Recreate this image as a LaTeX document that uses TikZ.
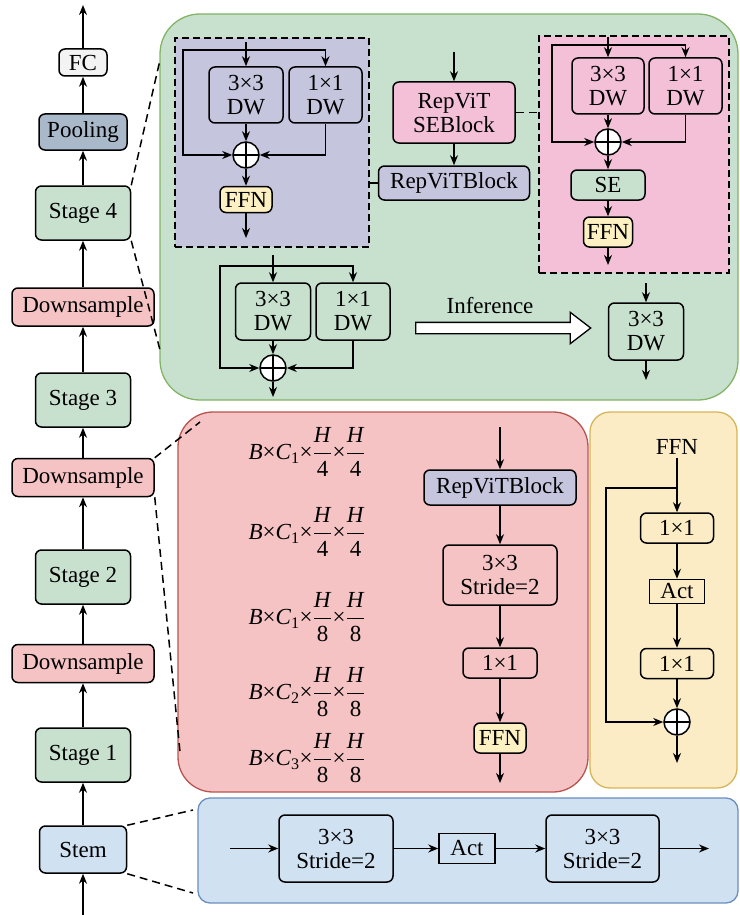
\documentclass[tikz,border=0pt]{standalone}
\usepackage{amsmath}
\usepackage{fontspec}
\setmainfont{Liberation Serif}
\usetikzlibrary{arrows.meta,shapes.arrows}

\definecolor{grn}{HTML}{C8E1CF}
\definecolor{gbrd}{HTML}{82B366}
\definecolor{rfill}{HTML}{F5C3C4}
\definecolor{rbrd}{HTML}{B85450}
\definecolor{lav}{HTML}{C6C5DE}
\definecolor{mag}{HTML}{F3C0D8}
\definecolor{ffnc}{HTML}{FDF0C3}
\definecolor{yfill}{HTML}{FBECC6}
\definecolor{ybrd}{HTML}{D6B656}
\definecolor{bfill}{HTML}{D0E1F1}
\definecolor{bbrd}{HTML}{6C8EBF}
\definecolor{poolc}{HTML}{A9B9CA}
\definecolor{fcgray}{HTML}{F3F3F3}

\newcommand{\dimlbl}[3]{\textit{B}×\textit{C}\textsubscript{#1}×$\dfrac{\mbox{\textit{H}}}{\mbox{#2}}$×$\dfrac{\mbox{\textit{H}}}{\mbox{#3}}$}

\begin{document}
\begin{tikzpicture}[x=1pt, y=-1pt,
    every node/.style={font=\fontsize{23}{24}\selectfont},
    box/.style={draw, line width=1.5pt, rounded corners=6pt, fill=#1, inner sep=0pt, align=center},
    sqbox/.style={draw, line width=1.5pt, fill=#1, inner sep=0pt},
    arr/.style={line width=1.5pt, -{Stealth[length=10pt,width=8pt]}},
    line/.style={line width=1.5pt},
    zoomln/.style={line width=1.5pt, dash pattern=on 8pt off 5pt},
    dbox/.style={draw, line width=1.5pt, dash pattern=on 7pt off 4pt, fill=#1, inner sep=0pt},
    panel/.style 2 args={draw=#1, fill=#2, line width=1.3pt},
    sum/.style={draw, circle, line width=1.5pt, fill=white, minimum size=26pt, inner sep=0pt,
        path picture={\draw[line width=1.5pt] (path picture bounding box.north) -- (path picture bounding box.south)
            (path picture bounding box.west) -- (path picture bounding box.east);}},
    ]
    \useasboundingbox (0,0) rectangle (739,915);

    % panels
    \draw[panel={gbrd}{grn}, rounded corners=40pt] (160,14) rectangle (738,400);
    \draw[panel={rbrd}{rfill}, rounded corners=35pt] (178,412) rectangle (588,792);
    \draw[panel={ybrd}{yfill}, rounded corners=20pt] (590,412) rectangle (737,788);
    \draw[panel={bbrd}{bfill}, rounded corners=12pt] (198,798) rectangle (738,903);

    % backbone
    \node[box=fcgray, minimum width=48pt, minimum height=27pt] (fc) at (83,62.5) {FC};
    \node[box=poolc, minimum width=88pt, minimum height=36pt] (pool) at (83,132) {Pooling};
    \node[box=grn, minimum width=95pt, minimum height=54pt] (st4) at (83,213) {Stage 4};
    \node[box=rfill, minimum width=142pt, minimum height=38pt] (ds3) at (83,307) {Downsample};
    \node[box=grn, minimum width=95pt, minimum height=54pt] (st3) at (83,400) {Stage 3};
    \node[box=rfill, minimum width=142pt, minimum height=38pt] (ds2) at (83,477.5) {Downsample};
    \node[box=grn, minimum width=95pt, minimum height=54pt] (st2) at (83,577) {Stage 2};
    \node[box=rfill, minimum width=142pt, minimum height=38pt] (ds1) at (83,663.5) {Downsample};
    \node[box=grn, minimum width=95pt, minimum height=54pt] (st1) at (83,755) {Stage 1};
    \node[box=bfill, minimum width=87pt, minimum height=47pt] (stem) at (83,849.5) {Stem};
    \coordinate (top) at (83,5);
    \coordinate (bot) at (83,915);
    \draw[arr] (bot) -- (stem);
    \draw[arr] (stem) -- (st1);
    \draw[arr] (st1) -- (ds1);
    \draw[arr] (ds1) -- (st2);
    \draw[arr] (st2) -- (ds2);
    \draw[arr] (ds2) -- (st3);
    \draw[arr] (st3) -- (ds3);
    \draw[arr] (ds3) -- (st4);
    \draw[arr] (st4) -- (pool);
    \draw[arr] (pool) -- (fc);
    \draw[arr] (fc) -- (top);

    % zoom lines
    \coordinate (g1) at (160,60);
    \coordinate (g2) at (160,350);
    \coordinate (r1) at (200,422);
    \coordinate (r2) at (180,752);
    \coordinate (b1) at (193,810);
    \coordinate (b2) at (193,893);
    \draw[zoomln] (st4.north east) -- (g1);
    \draw[zoomln] (st4.south east) -- (g2);
    \draw[zoomln] (ds2.north east) -- (r1);
    \draw[zoomln] (ds2.south east) -- (r2);
    \draw[zoomln] (stem.north east) -- (b1);
    \draw[zoomln] (stem.south east) -- (b2);

    % RepViTBlock
    \node[dbox=lav, minimum width=194pt, minimum height=209pt] (pbox) at (272,142.5) {};
    \node[box=lav, minimum width=74pt, minimum height=56pt] (dwa) at (246,95) {3×3\\DW};
    \node[box=lav, minimum width=73pt, minimum height=56pt] (dwb) at (325.5,95) {1×1\\DW};
    \node[sum] (sumA) at (246,155) {};
    \node[box=ffnc, minimum width=52pt, minimum height=26pt] (ffnA) at (246,199.5) {FFN};
    \coordinate (inA) at (246,42);
    \coordinate (brA) at (246,50);
    \coordinate (skA) at (183,50);
    \coordinate (outA) at (246,238);
    \draw[arr] (inA) -- (dwa);
    \draw[arr] (brA) -| (dwb);
    \draw[arr] (brA) -- (skA) |- (sumA);
    \draw[arr] (dwa) -- (sumA);
    \draw[arr] (dwb) |- (sumA);
    \draw[arr] (sumA) -- (ffnA);
    \draw[arr] (ffnA) -- (outA);

    % RepViT SEBlock
    \node[dbox=mag, minimum width=190pt, minimum height=237pt] (sbox) at (634,154.5) {};
    \node[box=mag, minimum width=72pt, minimum height=56pt] (dwc) at (608,86) {3×3\\DW};
    \node[box=mag, minimum width=73pt, minimum height=56pt] (dwd) at (685.5,86) {1×1\\DW};
    \node[sum] (sumB) at (608,142) {};
    \node[box=grn, minimum width=74pt, minimum height=30pt] (se) at (608,185) {SE};
    \node[box=ffnc, minimum width=49pt, minimum height=30pt] (ffnB) at (608,232) {FFN};
    \coordinate (inB) at (608,37);
    \coordinate (brB) at (608,45);
    \coordinate (skB) at (552,45);
    \coordinate (outB) at (608,265);
    \draw[arr] (inB) -- (dwc);
    \draw[arr] (brB) -| (dwd);
    \draw[arr] (brB) -- (skB) |- (sumB);
    \draw[arr] (dwc) -- (sumB);
    \draw[arr] (dwd) |- (sumB);
    \draw[arr] (sumB) -- (se);
    \draw[arr] (se) -- (ffnB);
    \draw[arr] (ffnB) -- (outB);

    % middle
    \node[box=mag, minimum width=122pt, minimum height=61pt] (seb) at (454,112.5) {RepViT\\SEBlock};
    \node[box=lav, minimum width=151pt, minimum height=34pt] (rvb) at (454,183) {RepViTBlock};
    \coordinate (inS) at (454,52);
    \draw[arr] (inS) -- (seb);
    \draw[arr] (seb) -- (rvb);
    \draw[line] (rvb.west) -- (pbox.east |- rvb.west);
    \draw[zoomln] (seb.east) -- (sbox.west |- seb.east);

    % reparameterisation
    \node[box=grn, minimum width=75pt, minimum height=57pt] (dwe) at (273,311.5) {3×3\\DW};
    \node[box=grn, minimum width=74pt, minimum height=57pt] (dwf) at (353,311.5) {1×1\\DW};
    \node[sum] (sumC) at (273,368) {};
    \coordinate (inC) at (273,255);
    \coordinate (brC) at (273,266);
    \coordinate (skC) at (220,266);
    \coordinate (outC) at (273,397);
    \draw[arr] (inC) -- (dwe);
    \draw[arr] (brC) -| (dwf);
    \draw[arr] (brC) -- (skC) |- (sumC);
    \draw[arr] (dwe) -- (sumC);
    \draw[arr] (dwf) |- (sumC);
    \draw[arr] (sumC) -- (outC);
    \node[single arrow, draw, fill=white, line width=1.3pt, minimum height=175pt, minimum width=30pt,
        single arrow head extend=10pt, single arrow tip angle=75, inner xsep=0pt, inner ysep=5pt] (infer) at (499.5,328) {};
    \node (inflbl) at (490,306) {Inference};
    \node[box=grn, minimum width=75pt, minimum height=57pt] (dwg) at (646,331.5) {3×3\\DW};
    \coordinate (inG) at (646,283);
    \coordinate (outG) at (646,380);
    \draw[arr] (inG) -- (dwg);
    \draw[arr] (dwg) -- (outG);

    % downsample
    \node[anchor=west] (d1) at (245,452) {\dimlbl{1}{4}{4}};
    \node[anchor=west] (d2) at (245,532) {\dimlbl{1}{4}{4}};
    \node[anchor=west] (d3) at (245,617) {\dimlbl{1}{8}{8}};
    \node[anchor=west] (d4) at (245,692) {\dimlbl{2}{8}{8}};
    \node[anchor=west] (d5) at (245,758) {\dimlbl{3}{8}{8}};
    \node[box=lav, minimum width=152pt, minimum height=35pt] (rvb2) at (500,487.5) {RepViTBlock};
    \node[box=rfill, minimum width=114pt, minimum height=60pt] (sd2) at (500,575) {3×3\\Stride=2};
    \node[box=rfill, minimum width=74pt, minimum height=30pt] (pw) at (500,663) {1×1};
    \node[box=ffnc, minimum width=52pt, minimum height=30pt] (ffnC) at (500,738) {FFN};
    \coordinate (inD) at (500,427);
    \coordinate (outD) at (500,783);
    \draw[arr] (inD) -- (rvb2);
    \draw[arr] (rvb2) -- (sd2);
    \draw[arr] (sd2) -- (pw);
    \draw[arr] (pw) -- (ffnC);
    \draw[arr] (ffnC) -- (outD);

    % FFN
    \node (ffnlbl) at (677,447) {FFN};
    \node[box=yfill, minimum width=73pt, minimum height=30pt] (y1) at (677,528) {1×1};
    \node[sqbox=yfill, minimum width=55pt, minimum height=24pt] (act) at (677,591.5) {Act};
    \node[box=yfill, minimum width=73pt, minimum height=30pt] (y2) at (677,663.5) {1×1};
    \node[sum] (sumD) at (677,722) {};
    \coordinate (brY) at (677,488);
    \coordinate (skY) at (606,488);
    \coordinate (outY) at (677,763);
    \draw[arr] (ffnlbl) -- (y1);
    \draw[arr] (brY) -- (skY) |- (sumD);
    \draw[arr] (y1) -- (act);
    \draw[arr] (act) -- (y2);
    \draw[arr] (y2) -- (sumD);
    \draw[arr] (sumD) -- (outY);

    % stem
    \node[box=bfill, minimum width=114pt, minimum height=67pt] (cv1) at (336,848.5) {3×3\\Stride=2};
    \node[sqbox=bfill, minimum width=56pt, minimum height=30pt] (act2) at (467,848.5) {Act};
    \node[box=bfill, minimum width=113pt, minimum height=67pt] (cv2) at (602.5,848.5) {3×3\\Stride=2};
    \coordinate (inE) at (230,848.5);
    \coordinate (outE) at (709,848.5);
    \draw[arr] (inE) -- (cv1);
    \draw[arr] (cv1) -- (act2);
    \draw[arr] (act2) -- (cv2);
    \draw[arr] (cv2) -- (outE);
\end{tikzpicture}
\end{document}
